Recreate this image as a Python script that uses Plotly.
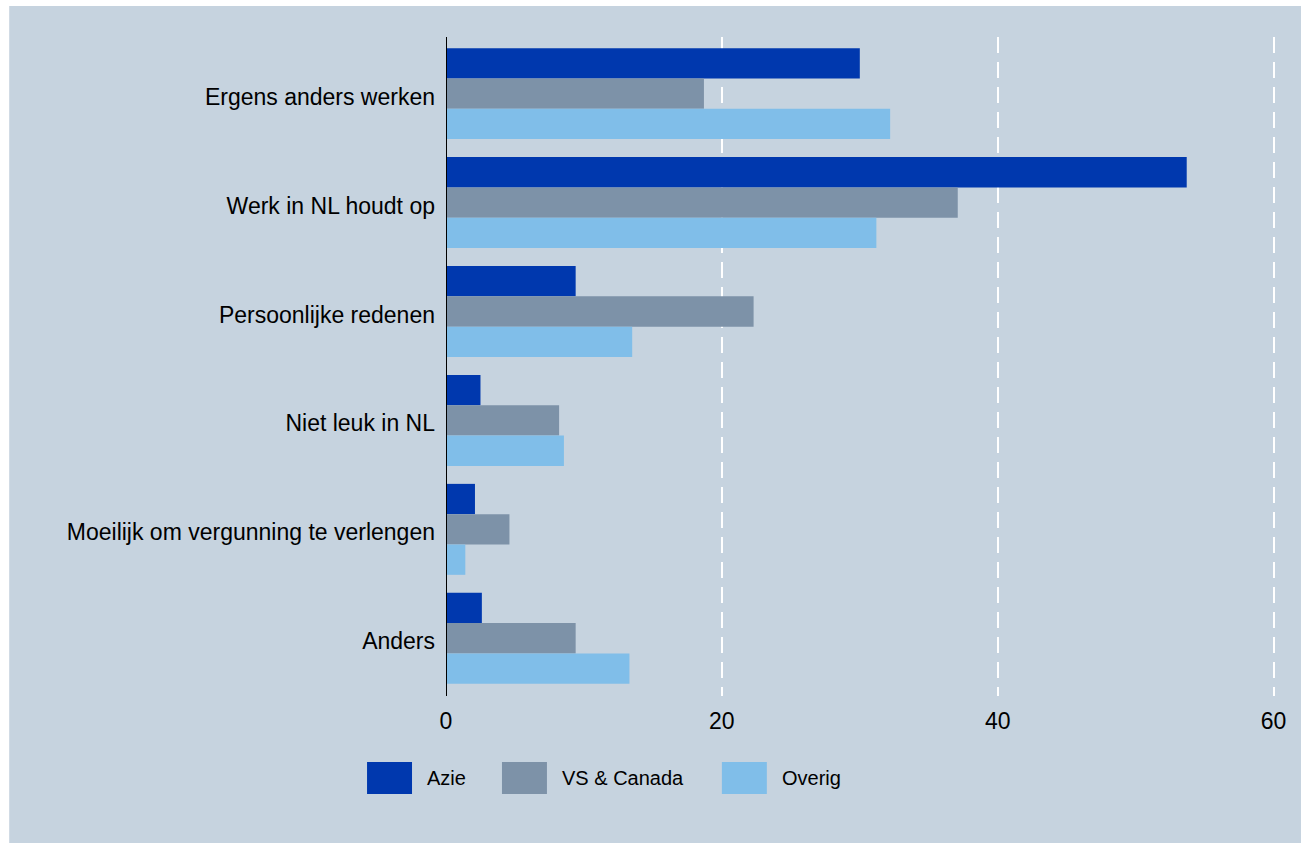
import plotly.graph_objects as go

categories = [
    "Ergens anders werken",
    "Werk in NL houdt op",
    "Persoonlijke redenen",
    "Niet leuk in NL",
    "Moeilijk om vergunning te verlengen",
    "Anders",
]
azie = [30.0, 53.7, 9.4, 2.5, 2.1, 2.6]
vs_canada = [18.7, 37.1, 22.3, 8.2, 4.6, 9.4]
overig = [32.2, 31.2, 13.5, 8.55, 1.4, 13.3]

series_names = ["Azie", "VS & Canada", "Overig"]
series_values = [azie, vs_canada, overig]
colors = ["#0038ae", "#7d92a8", "#80bee9"]
bg = "#c6d3df"

W, H = 1301, 843
XMAX = 60.1
# plot area in pixels (x=0 at 446, x=60 at 1274, top 37, bottom 696)
X0_PX, X60_PX = 446, 1274
L = X0_PX
R = X0_PX + (X60_PX - X0_PX) * XMAX / 60
T, B = 37, 696


def px(x):
    return (x - L) / (R - L)


def py(y):
    return (B - y) / (B - T)


fig = go.Figure()
for name, vals, col in zip(series_names, series_values, colors):
    fig.add_trace(go.Bar(
        y=categories, x=vals, name=name, orientation="h",
        marker=dict(color=col, line=dict(width=0)),
        showlegend=False,
    ))

shapes = [
    # grey background panel, thin white strip top and left
    dict(type="rect", xref="paper", yref="paper", layer="below",
         x0=px(9), x1=px(W + 20), y0=py(H + 20), y1=py(6),
         fillcolor=bg, line=dict(width=0)),
    # vertical axis line at x = 0
    dict(type="line", xref="x", yref="paper", x0=0, x1=0, y0=0, y1=1,
         line=dict(color="black", width=2)),
]
annotations = []

# hand-drawn legend with large swatches
legend_x = [367, 502, 722]
for x0, name, col in zip(legend_x, series_names, colors):
    shapes.append(dict(type="rect", xref="paper", yref="paper",
                       x0=px(x0), x1=px(x0 + 45), y0=py(794), y1=py(762),
                       fillcolor=col, line=dict(width=0)))
    annotations.append(dict(xref="paper", yref="paper", x=px(x0 + 58), y=py(778),
                            text=name, showarrow=False, xanchor="left",
                            yanchor="middle",
                            font=dict(size=20, color="#000000")))

fig.update_layout(
    width=W, height=H,
    margin=dict(l=L, r=W - R, t=T, b=H - B, pad=0),
    paper_bgcolor="white",
    plot_bgcolor="rgba(0,0,0,0)",
    barmode="group",
    bargap=0.165,
    bargroupgap=0,
    font=dict(family="Liberation Sans, Arial, sans-serif", size=20, color="#000000"),
    shapes=shapes,
    annotations=annotations,
    xaxis=dict(
        range=[0, XMAX], tickvals=[0, 20, 40, 60],
        showgrid=True, gridcolor="white", gridwidth=2, griddash="16px,9px",
        zeroline=False, showline=False, ticks="",
        tickfont=dict(size=23), ticklabelstandoff=9,
    ),
    yaxis=dict(
        range=[5.53, -0.52], showgrid=False, zeroline=False,
        showline=False, ticks="",
        tickfont=dict(size=23), ticklabelstandoff=10, ticklabelshift=-3,
    ),
)

# drop the default page margin so the figure fills the window exactly
fig.write_html("out.html", config={"displayModeBar": False},
               post_script="document.body.style.margin = '0';")
